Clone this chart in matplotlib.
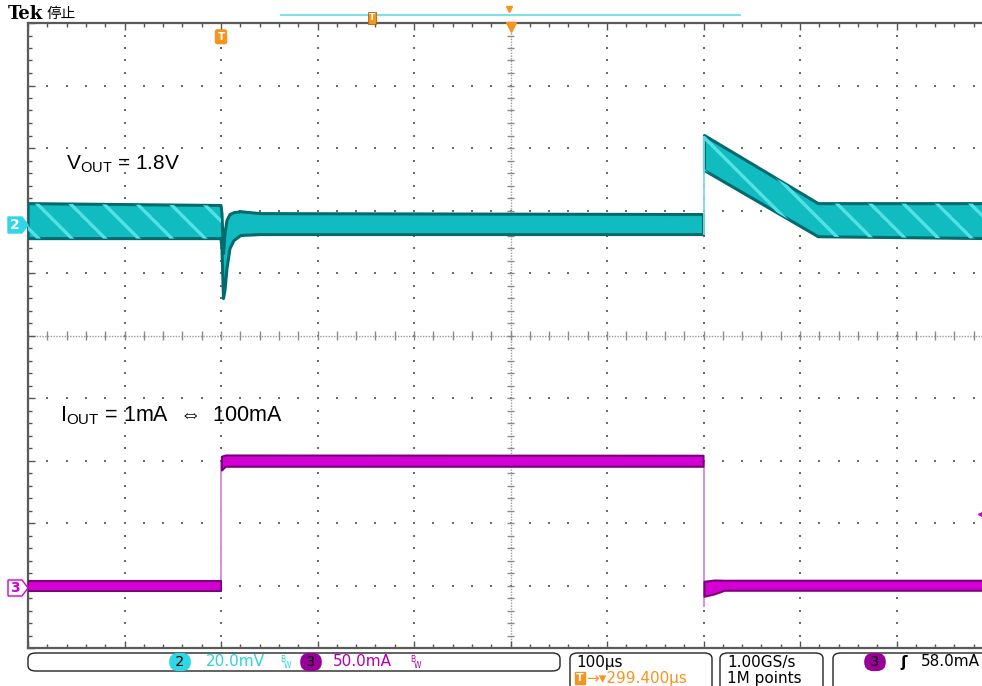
import numpy as np
import matplotlib
matplotlib.use("Agg")
import matplotlib.pyplot as plt
from matplotlib.patches import FancyBboxPatch, Polygon

plt.rcParams['mathtext.fontset'] = 'custom'
plt.rcParams['mathtext.rm'] = 'Liberation Sans'
plt.rcParams['hatch.linewidth'] = 2.4

# scope settings
t_div = 100.0        # us / div
ch2_scale = 20.0     # mV / div
ch3_scale = 50.0     # mA / div
ch2_pos = 1.79       # ch2 marker, divisions from centre
ch3_pos = -4.02      # ch3 marker
trig_level = 58.0    # mA

# CH2: Vout ripple envelope, mV relative to marker, time in us (trigger = 0)
ch2_t  = [-200, 0, 1, 2.6, 4.1, 6.2, 9.3, 13.5, 20.7, 41, 497, 500, np.nan, 501, 619, 800]
ch2_up = [6.4, 5.8, 3.2, -9.6, -3.2, 1.0, 2.9, 3.5, 3.8, 3.2, 2.9, 2.9, np.nan, 28.2, 6.4, 6.4]
ch2_lo = [-4.8, -4.8, -8.0, -24.0, -21.4, -14.4, -8.0, -5.4, -3.8, -3.5, -3.5, -3.5, np.nan, 17.0, -4.2, -4.8]
ch2_edge_t = [500.5]
ch2_edge_lo = [-3.5]
ch2_edge_hi = [28.2]

# CH3: Iout envelope, mA
ch3_t  = [-200, 0, np.nan, 1, 5, 500, np.nan, 501, 512, 522, 800]
ch3_up = [4.8, 4.8, np.nan, 104.0, 105.0, 104.8, np.nan, 4.0, 5.0, 4.8, 4.8]
ch3_lo = [-3.2, -3.2, np.nan, 93.0, 96.0, 96.0, np.nan, -8.0, -6.0, -3.2, -3.2]
ch3_edge_t = [0, 500.5]
ch3_edge_lo = [0.8, -16.0]
ch3_edge_hi = [100.0, 100.0]

cyan = '#10bcc0'
cyan_dark = '#006a6e'
cyan_light = '#52e2e6'
mag = '#d200d2'
mag_dark = '#7a007a'
orange = '#f7941d'
grid_c = '#6a6a6a'

W, H = 982, 686


def fx(x):
    return x / W


def fy(y):
    return 1 - y / H


fig = plt.figure(figsize=(9.82, 6.86), dpi=100)
fig.patch.set_facecolor('white')
ax = fig.add_axes([fx(28), 38 / H, 965 / W, 625 / H])
ax.set_xlim(-200, 800)
ax.set_ylim(-5, 5)

# graticule
minor_x = np.arange(-200, 801, 20)
minor_y = np.arange(-5, 5.01, 0.2)
for gx in [-100, 0, 100, 200, 400, 500, 600, 700]:
    ax.scatter(np.full(len(minor_y), gx), minor_y, s=1.3, marker='s', color=grid_c, lw=0, zorder=1)
for gy in [-4, -3, -2, -1, 1, 2, 3, 4]:
    ax.scatter(minor_x, np.full(len(minor_x), gy), s=1.3, marker='s', color=grid_c, lw=0, zorder=1)
ax.axhline(0, color='#9a9a9a', lw=1, ls=(0, (1, 1)), zorder=1)
ax.axvline(300, color='#9a9a9a', lw=1, ls=(0, (1, 1)), zorder=1)
ax.vlines(minor_x, -0.07, 0.07, color='#8a8a8a', lw=1, zorder=1)
ax.hlines(minor_y, 296, 304, color='#8a8a8a', lw=1, zorder=1)

ax.set_xticks(np.arange(-200, 801, 100))
ax.set_xticks(minor_x, minor=True)
ax.set_yticks(np.arange(-5, 6, 1))
ax.set_yticks(minor_y, minor=True)
ax.tick_params(which='both', direction='in', top=True, bottom=True, left=True, right=False,
               labelbottom=False, labelleft=False, color='#555555', width=1)
ax.tick_params(which='major', length=5)
ax.tick_params(which='minor', length=3)
for s in ['left', 'top', 'bottom']:
    ax.spines[s].set_color('#5a5a5a')
    ax.spines[s].set_linewidth(1.6)
ax.spines['right'].set_visible(False)

# CH2 trace
t2 = np.array(ch2_t)
up2 = ch2_pos + np.array(ch2_up) / ch2_scale
lo2 = ch2_pos + np.array(ch2_lo) / ch2_scale
ax.fill_between(t2, lo2, up2, facecolor=cyan, edgecolor=cyan_dark, lw=2.2, zorder=3)
stripe = (t2 <= 0) | (t2 >= 501)
ax.fill_between(t2, lo2, up2, where=stripe, facecolor='none', edgecolor=cyan_light,
                hatch='\\', lw=0, zorder=4)
ax.vlines(ch2_edge_t, ch2_pos + np.array(ch2_edge_lo) / ch2_scale,
          ch2_pos + np.array(ch2_edge_hi) / ch2_scale, color='#7fdcdc', lw=1.3, zorder=3)

# CH3 trace
t3 = np.array(ch3_t)
up3 = ch3_pos + np.array(ch3_up) / ch3_scale
lo3 = ch3_pos + np.array(ch3_lo) / ch3_scale
ax.vlines(ch3_edge_t, ch3_pos + np.array(ch3_edge_lo) / ch3_scale,
          ch3_pos + np.array(ch3_edge_hi) / ch3_scale, color='#d890d8', lw=1.4, zorder=3)
ax.fill_between(t3, lo3, up3, facecolor=mag, edgecolor=mag_dark, lw=1.5, zorder=3)

# trigger level marker (right edge) and trigger position marker
ax.plot([788], [ch3_pos + trig_level / ch3_scale], marker='<', ms=5, color=mag, clip_on=False, zorder=5)
ax.text(0, 4.78, 'T', color='white', fontsize=7.5, fontweight='bold', ha='center', va='center',
        bbox=dict(boxstyle='round,pad=0.18', fc=orange, ec=orange), zorder=6)
ax.plot([300], [4.93], marker='v', ms=7, color=orange, clip_on=False, zorder=6)

# annotations
ax.text(-161, 2.74, r'$\mathregular{V_{OUT}}$ = 1.8V', fontsize=15,
        family=['Liberation Sans', 'DejaVu Sans'], va='center', ha='left')
ax.text(-167, -1.28, r'$\mathregular{I_{OUT}}$ = 1mA  ⇔  100mA', fontsize=15.5,
        family=['Liberation Sans', 'DejaVu Sans'], va='center', ha='left')

# channel markers on the left
for yc, face, edge, txt, tc in [(225, '#2fd6e6', '#2fd6e6', '2', 'white'),
                                (588, 'white', mag, '3', mag)]:
    pts = [(fx(8), fy(yc - 8)), (fx(22), fy(yc - 8)), (fx(28), fy(yc)),
           (fx(22), fy(yc + 8)), (fx(8), fy(yc + 8))]
    fig.patches.append(Polygon(pts, closed=True, fc=face, ec=edge, lw=1, transform=fig.transFigure))
    fig.text(fx(15), fy(yc), txt, color=tc, fontsize=10, fontweight='bold', ha='center', va='center')

# header
fig.text(fx(8), fy(14), 'Tek', fontsize=13, fontweight='bold', family='DejaVu Serif', va='center')
fig.text(fx(46), fy(14), '停止', fontsize=10.5, family=['Noto Sans CJK SC', 'DejaVu Sans'], va='center')
fig.lines.append(plt.Line2D([fx(281), fx(740)], [fy(15), fy(15)], color='#7fe0ea', lw=1.5,
                            transform=fig.transFigure))
fig.text(fx(372), fy(18), 'T', color='white', fontsize=6.5, fontweight='bold', ha='center', va='center',
         bbox=dict(boxstyle='square,pad=0.12', fc=orange, ec='#c06000', lw=0.6))
fig.lines.append(plt.Line2D([fx(509)], [fy(9)], marker='v', ms=5, color=orange, transform=fig.transFigure))

# status bar
for x0, x1, y0, y1 in [(28, 560, 653, 671), (570, 712, 653, 692), (720, 823, 653, 692), (833, 992, 653, 692)]:
    fig.patches.append(FancyBboxPatch((fx(x0), fy(y1)), fx(x1 - x0), (y1 - y0) / H,
                                      boxstyle='round,pad=0,rounding_size=0.008', fc='white',
                                      ec='#222222', lw=1, transform=fig.transFigure))

sf = dict(fontsize=11, family='DejaVu Sans', va='center')
pill = dict(boxstyle='round,pad=0.15,rounding_size=0.65', ec='none')
fig.text(fx(180), fy(662), ' 2 ', color='black', ha='center', fontsize=10, va='center',
         bbox=dict(fc='#2fd6e6', **pill))
fig.text(fx(206), fy(662), '20.0mV', color='#2fd0e0', **sf)
fig.text(fx(280), fy(659), 'B', color='#2fd0e0', fontsize=5.5, va='center')
fig.text(fx(284), fy(665), 'W', color='#2fd0e0', fontsize=5.5, va='center')
fig.text(fx(311), fy(662), ' 3 ', color='black', ha='center', fontsize=10, va='center',
         bbox=dict(fc='#990099', **pill))
fig.text(fx(333), fy(662), '50.0mA', color='#b000b0', **sf)
fig.text(fx(410), fy(659), 'B', color='#b000b0', fontsize=5.5, va='center')
fig.text(fx(414), fy(665), 'W', color='#b000b0', fontsize=5.5, va='center')

fig.text(fx(576), fy(662), '100µs', color='black', **sf)
fig.text(fx(576), fy(678), 'T', color='white', fontsize=8, fontweight='bold', va='center',
         bbox=dict(boxstyle='square,pad=0.08', fc=orange, ec=orange))
fig.text(fx(586), fy(678), '→▾299.400µs', color=orange, **sf)
fig.text(fx(727), fy(662), '1.00GS/s', color='black', **sf)
fig.text(fx(727), fy(678), '1M points', color='black', **sf)
fig.text(fx(875), fy(662), ' 3 ', color='black', ha='center', fontsize=10, va='center',
         bbox=dict(fc='#990099', **pill))
fig.text(fx(900), fy(662), 'ʃ', color='black', fontsize=11, fontweight='bold', va='center')
fig.text(fx(921), fy(662), '58.0mA', color='black', **sf)

fig.savefig('out.png', dpi=100)
